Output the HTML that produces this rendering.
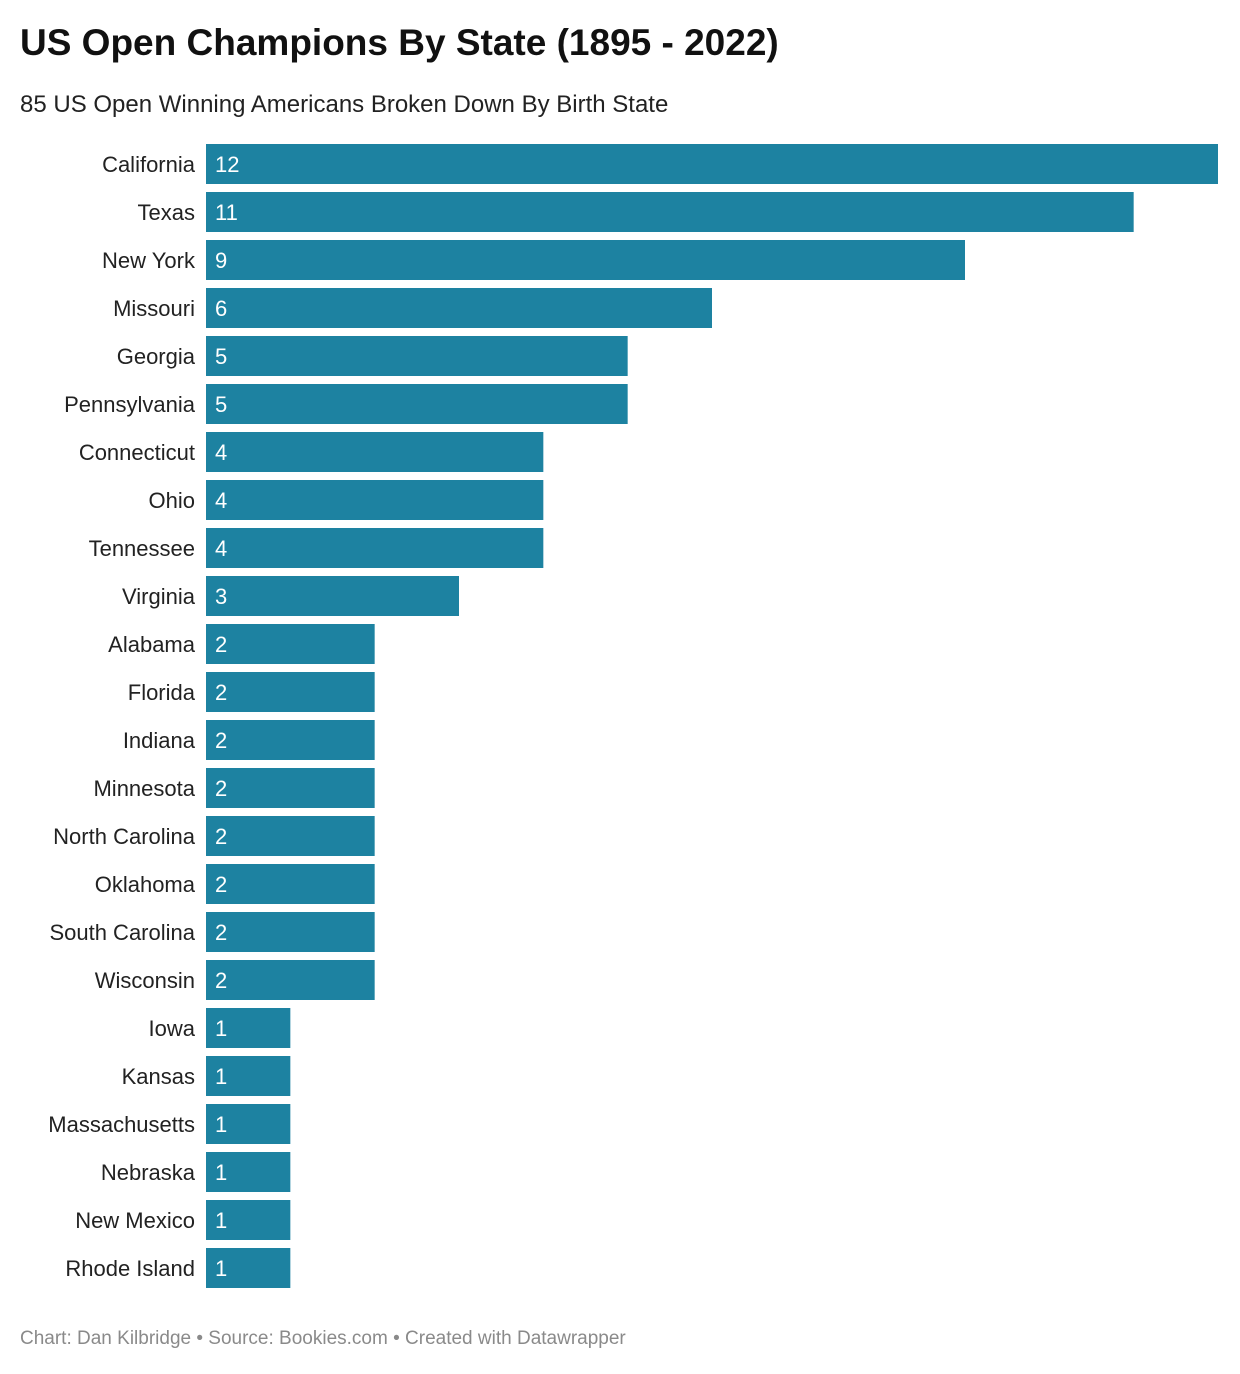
<!DOCTYPE html>
<html><head><meta charset="utf-8">
<style>
html,body{margin:0;padding:0;background:#fff;}
body{width:1240px;height:1374px;position:relative;font-family:"Liberation Sans",sans-serif;overflow:hidden;}
#title{position:absolute;left:20px;top:22px;font-size:37px;font-weight:bold;color:#111;margin:0;}
#sub{position:absolute;left:20px;top:91px;font-size:24px;color:#222;}
#foot{position:absolute;left:20px;top:1328px;font-size:19px;color:#8a8a8a;}
</style></head><body>
<h1 id="title">US Open Champions By State (1895 - 2022)</h1>
<div id="sub">85 US Open Winning Americans Broken Down By Birth State</div>
<svg id="chart" width="1240" height="1374" style="position:absolute;left:0;top:0"></svg>
<div id="foot">Chart: Dan Kilbridge • Source: Bookies.com • Created with Datawrapper</div>
<script>
const states = ["California","Texas","New York","Missouri","Georgia","Pennsylvania","Connecticut","Ohio","Tennessee","Virginia","Alabama","Florida","Indiana","Minnesota","North Carolina","Oklahoma","South Carolina","Wisconsin","Iowa","Kansas","Massachusetts","Nebraska","New Mexico","Rhode Island"];
const wins = [12,11,9,6,5,5,4,4,4,3,2,2,2,2,2,2,2,2,1,1,1,1,1,1];
const xMax = 12;
const X0 = 206, X1 = 1218, Y0 = 144, STEP = 48, BH = 40;
function x(v){ return X0 + (X1 - X0) * v / xMax; }
function y(i){ return Y0 + i * STEP; }
const svg = document.getElementById('chart');
const NS = 'http://www.w3.org/2000/svg';
states.forEach((s, i) => {
  const g = document.createElementNS(NS, 'g');
  
  
  const lab = document.createElementNS(NS, 'text');
  
  
  lab.setAttribute('x', 195);
  lab.setAttribute('y', y(i) + BH / 2 + 8);
  lab.setAttribute('text-anchor', 'end');
  lab.setAttribute('font-size', '22');
  lab.setAttribute('fill', '#222');
  lab.setAttribute('font-family', 'Liberation Sans, sans-serif');
  lab.textContent = s;
  const r = document.createElementNS(NS, 'rect');
  
  
  r.setAttribute('x', x(0));
  r.setAttribute('y', y(i));
  r.setAttribute('width', x(wins[i]) - x(0));
  r.setAttribute('height', BH);
  r.setAttribute('fill', '#1d82a1');
  const v = document.createElementNS(NS, 'text');
  
  
  v.setAttribute('x', x(0) + 9);
  v.setAttribute('y', y(i) + BH / 2 + 8);
  v.setAttribute('font-size', '22');
  v.setAttribute('fill', '#fff');
  v.setAttribute('font-family', 'Liberation Sans, sans-serif');
  v.textContent = wins[i];
  g.appendChild(lab); g.appendChild(r); g.appendChild(v);
  svg.appendChild(g);
});
</script>
</body></html>
